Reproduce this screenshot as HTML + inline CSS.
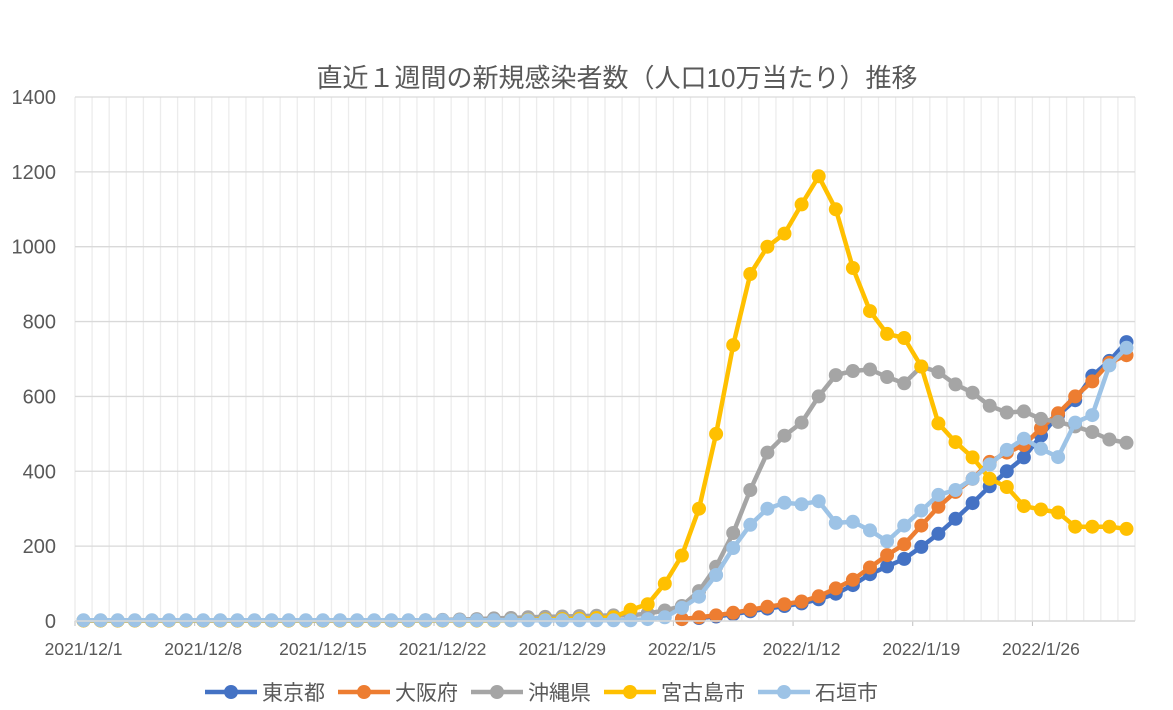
<!DOCTYPE html>
<html><head><meta charset="utf-8"><style>body{margin:0;background:#fff}svg{display:block}</style></head>
<body><svg id="s" width="1173" height="710" xmlns="http://www.w3.org/2000/svg" font-family="'Liberation Sans','Noto Sans CJK JP',sans-serif"></svg>
<script>
const s=document.getElementById('s');let h='';
const L=75,R=1135,Y0=621,K=0.3743,W=(R-L)/62;
const X=i=>L+W/2+i*W, Y=v=>Y0-v*K;
h+=`<text x="617" y="87" font-size="26" fill="#595959" text-anchor="middle">直近１週間の新規感染者数（人口10万当たり）推移</text>`;
for(let i=0;i<=62;i++){h+=`<line x1="${L+i*W}" x2="${L+i*W}" y1="97" y2="${Y0}" stroke="#ececec" stroke-width="1.3"/>`;}
for(let v=0;v<=1400;v+=200){h+=`<line x1="${L}" x2="${R}" y1="${Y(v)}" y2="${Y(v)}" stroke="#d9d9d9" stroke-width="1.3"/>`;
h+=`<text x="56" y="${Y(v)+7}" font-size="20" fill="#595959" text-anchor="end">${v}</text>`;}
const labs=['2021/12/1','2021/12/8','2021/12/15','2021/12/22','2021/12/29','2022/1/5','2022/1/12','2022/1/19','2022/1/26'];
labs.forEach((t,k)=>{const i=k*7;h+=`<line x1="${L+i*W}" x2="${L+i*W}" y1="${Y0}" y2="${Y0+5}" stroke="#bfbfbf"/>`;
h+=`<text x="${X(i)}" y="655" font-size="17.5" fill="#595959" text-anchor="middle">${t}</text>`;});
function pad(a){return Array(62-a.length).fill(0).concat(a);}
const tokyo=pad([5,8,12,18,26,33,40,47,58,73,96,125,146,166,198,233,273,315,360,400,437,495,550,590,655,695,745]);
const osaka=pad([5,10,15,22,30,38,45,52,66,87,110,143,176,205,255,305,345,380,425,450,470,515,555,600,640,690,710]);
const oki=Array(20).fill(1).concat([2,3,4,5,7,8,10,11,12,13,14,15,15,20,28,40,80,145,235,350,450,495,530,600,657,668,672,652,635,680,665,632,610,575,557,560,540,532,520,505,485,476]);
const miy=Array(25).fill(1).concat([2,3,4,5,6,8,10,30,45,100,175,300,500,737,927,1000,1035,1113,1188,1100,943,828,767,756,680,528,478,437,380,358,307,298,290,252,252,252,246]);
const ish=Array(33).fill(2).concat([5,10,35,65,123,195,257,300,316,312,320,262,265,242,213,255,295,337,350,380,418,457,487,460,438,530,550,683,730]);
function ser(d,c,st){let p=d.map((v,i)=>(st!=null&&i<st)?null:`${X(i).toFixed(1)},${Y(v).toFixed(1)}`).filter(x=>x);
h+=`<polyline points="${p.join(' ')}" fill="none" stroke="${c}" stroke-width="4.5" stroke-linejoin="round"/>`;
p.forEach(q=>{const [a,b]=q.split(',');h+=`<circle cx="${a}" cy="${b}" r="7" fill="${c}"/>`;});}
ser(tokyo,'#4472c4',35);ser(osaka,'#ed7d31',35);ser(oki,'#a5a5a5');ser(miy,'#ffc000');ser(ish,'#9dc3e6');
h+=`<line x1="${L}" x2="${R}" y1="${Y0}" y2="${Y0}" stroke="#d9d9d9" stroke-width="1.5"/>`;
const lg=[['東京都','#4472c4',205],['大阪府','#ed7d31',338],['沖縄県','#a5a5a5',471],['宮古島市','#ffc000',604],['石垣市','#9dc3e6',758]];
lg.forEach(([t,c,x])=>{h+=`<line x1="${x}" x2="${x+52}" y1="692" y2="692" stroke="${c}" stroke-width="4.5"/><circle cx="${x+26}" cy="692" r="7" fill="${c}"/>`;
h+=`<text x="${x+57}" y="700" font-size="21" fill="#595959">${t}</text>`;});
s.innerHTML=h;
</script></body></html>
